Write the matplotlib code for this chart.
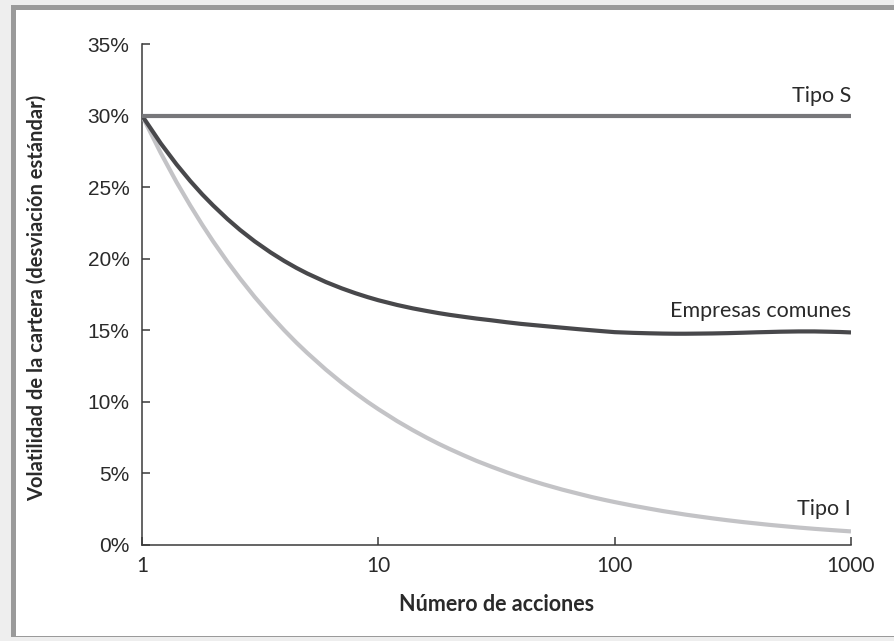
import matplotlib
matplotlib.use("Agg")
import matplotlib.pyplot as plt
from matplotlib.patches import Rectangle
from matplotlib.ticker import FixedLocator, NullLocator

# ---- data ----
acciones = [1, 1.2, 1.4, 1.6, 1.8, 2, 2.3, 2.6, 3, 3.5, 4, 4.5, 5, 6, 7, 8, 9, 10,
            12, 14, 16, 18, 20, 23, 26, 30, 35, 40, 45, 50, 60, 70, 80, 90, 100,
            120, 140, 160, 180, 200, 230, 260, 300, 350, 400, 450, 500, 600, 700,
            800, 900, 1000]
tipo_s = [30.0] * len(acciones)
empresas_comunes = [30.0, 28.06, 26.59, 25.43, 24.49, 23.72, 22.77, 22.01, 21.21,
                    20.44, 19.84, 19.36, 18.97, 18.37, 17.93, 17.59, 17.32, 17.10,
                    16.77, 16.53, 16.35, 16.20, 16.08, 15.94, 15.82, 15.70, 15.56,
                    15.45, 15.37, 15.30, 15.18, 15.08, 15.00, 14.93, 14.87, 14.82,
                    14.79, 14.77, 14.76, 14.76, 14.77, 14.78, 14.80, 14.83, 14.86,
                    14.88, 14.90, 14.92, 14.92, 14.90, 14.88, 14.85]
tipo_i = [30.0, 27.39, 25.35, 23.72, 22.36, 21.21, 19.78, 18.61, 17.32, 16.04,
          15.0, 14.14, 13.42, 12.25, 11.34, 10.61, 10.0, 9.49, 8.66, 8.02, 7.5,
          7.07, 6.71, 6.26, 5.88, 5.48, 5.07, 4.74, 4.47, 4.24, 3.87, 3.59, 3.35,
          3.16, 3.0, 2.74, 2.54, 2.37, 2.24, 2.12, 1.98, 1.86, 1.73, 1.60, 1.5,
          1.41, 1.34, 1.22, 1.13, 1.06, 1.0, 0.95]
x_ticks = [1, 10, 100, 1000]
x_ticklabels = ["1", "10", "100", "1000"]
y_ticks = [0, 5, 10, 15, 20, 25, 30, 35]
y_ticklabels = ["0%", "5%", "10%", "15%", "20%", "25%", "30%", "35%"]

W, H = 894, 641
fig = plt.figure(figsize=(W / 100, H / 100), dpi=100)
fig.patch.set_facecolor("#eeeeee")

def px(x0, y0, w, h):
    return (x0 / W, 1 - (y0 + h) / H, w / W, h / H)

# frame
r = px(11, 5, 900, 632)
fig.add_artist(Rectangle((r[0], r[1]), r[2], r[3], transform=fig.transFigure,
                         facecolor="#9a9a9a", edgecolor="none", zorder=0))
r = px(16, 10, 900, 626)
fig.add_artist(Rectangle((r[0], r[1]), r[2], r[3], transform=fig.transFigure,
                         facecolor="white", edgecolor="none", zorder=0))

ax = fig.add_axes(px(142, 44, 709, 501))
ax.set_facecolor("none")
ax.set_xscale("log")
ax.set_xlim(1, 1000)
ax.set_ylim(0, 35)

ax.plot(acciones, tipo_i, color="#c3c3c6", lw=3.0, solid_capstyle="butt",
        solid_joinstyle="round", zorder=3)
ax.plot(acciones, empresas_comunes, color="#48484b", lw=3.0, solid_capstyle="butt",
        solid_joinstyle="round", zorder=4)
ax.plot(acciones, tipo_s, color="#77777a", lw=3.0, solid_capstyle="butt", zorder=5)

for sp in ["top", "right"]:
    ax.spines[sp].set_visible(False)
for sp in ["left", "bottom"]:
    ax.spines[sp].set_color("#3a3a3a")
    ax.spines[sp].set_linewidth(1.1)

ax.xaxis.set_major_locator(FixedLocator(x_ticks))
ax.xaxis.set_minor_locator(NullLocator())
ax.set_xticklabels(x_ticklabels)
ax.set_yticks(y_ticks)
ax.set_yticklabels(y_ticklabels)
ax.tick_params(axis="both", direction="in", length=6, width=1.1, color="#3a3a3a",
               labelcolor="#2a2a2a")
ax.tick_params(axis="y", pad=9)
ax.tick_params(axis="x", pad=8)

yfont = ["Liberation Sans Narrow", "Liberation Sans", "DejaVu Sans"]
xfont = ["Lato", "DejaVu Sans"]
for t in ax.get_yticklabels():
    t.set_fontfamily(yfont)
    t.set_fontsize(15)
for t in ax.get_xticklabels():
    t.set_fontfamily(xfont)
    t.set_fontsize(15)

ax.set_xlabel("Número de acciones", fontfamily=xfont, fontsize=15.5,
              fontweight="bold", color="#2a2a2a", labelpad=13)
fig.text(37 / W, 1 - 298 / H, "Volatilidad de la cartera (desviación estándar)",
         rotation=90, ha="center", va="center", fontfamily=xfont,
         fontsize=14.5, fontweight="bold", color="#2a2a2a")

lab_kw = dict(textcoords="offset points", ha="right", va="baseline",
              fontfamily=xfont, fontsize=15.5, color="#2a2a2a")
ax.annotate("Tipo S", xy=(acciones[-1], tipo_s[-1]), xytext=(0, 10), **lab_kw)
ax.annotate("Empresas comunes", xy=(acciones[-1], empresas_comunes[-1]), xytext=(0, 11), **lab_kw)
ax.annotate("Tipo I", xy=(acciones[-1], tipo_i[-1]), xytext=(0, 12), **lab_kw)

fig.savefig("out.png", dpi=100, facecolor=fig.get_facecolor())
